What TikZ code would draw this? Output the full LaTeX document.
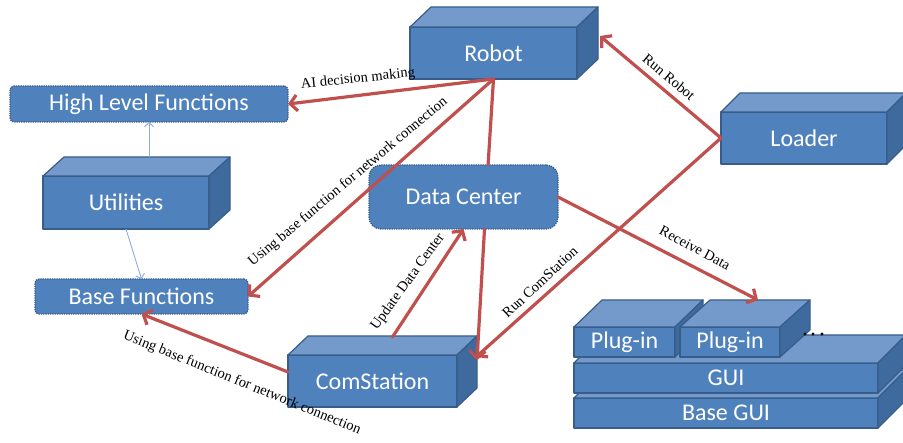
\documentclass[tikz,border=0pt]{standalone}
\usepackage{fontspec}
\setmainfont{Liberation Serif}
\newfontfamily\boxfont{Carlito}
\usetikzlibrary{arrows.meta,calc}

\definecolor{frontblue}{HTML}{4F81BD}
\definecolor{topblue}{HTML}{739ACA}
\definecolor{sideblue}{HTML}{3E6A9E}
\definecolor{edgeblue}{HTML}{385D8A}
\definecolor{linkred}{HTML}{C0504D}
\definecolor{thinblue}{HTML}{8AAEDC}

\tikzset{
  face/.style={draw=edgeblue, line width=1.2pt, line join=round},
  boxtext/.style={text=white, font=\boxfont\fontsize{24}{27}\selectfont},
  frontface/.style={face, fill=frontblue, boxtext, inner sep=0pt, outer sep=0pt},
  roundbox/.style={fill=frontblue, draw=edgeblue, densely dotted, line width=1.3pt,
    boxtext, inner sep=0pt, outer sep=0pt},
  link/.style={draw=linkred, line width=3.2pt, line cap=round,
    -{Straight Barb[length=7pt,width=16pt]}},
  plainlink/.style={draw=linkred, line width=3.2pt, line cap=round},
  thinlink/.style={draw=thinblue, line width=0.9pt,
    -{Straight Barb[length=4pt,width=9pt]}},
  lbl/.style={font=\fontsize{14.5}{16}\selectfont, inner sep=1pt},
}

% box with a front face, a lit top face and a shaded right side
% #1 name, #2 left, #3 top, #4 right, #5 bottom, #6 depth offset, #7 text
\newcommand{\cuboid}[7]{%
  \node[frontface, minimum width={#4-#2}, minimum height={#5-#3}]
    (#1) at ({(#2+#4)/2},{(#3+#5)/2}) {#7};
  \filldraw[face, fill=topblue] (#1.north west) -- ++(#6)
    -- ($(#1.north east)+(#6)$) -- (#1.north east) -- cycle;
  \filldraw[face, fill=sideblue] (#1.north east) -- ++(#6)
    -- ($(#1.south east)+(#6)$) -- (#1.south east) -- cycle;
}

\begin{document}
\begin{tikzpicture}[x=1pt, y=-1pt]
\useasboundingbox (0,0) rectangle (903,443);

% modules
\cuboid{robot}{410}{27}{577}{79}{21,-20}{Robot}
\cuboid{loader}{721}{112}{887}{164}{19,-19}{Loader}
\cuboid{util}{43}{176}{209}{229}{21,-19}{Utilities}
\cuboid{com}{288}{355}{457}{407}{20,-19}{ComStation}

% GUI stack
\cuboid{basegui}{574}{398}{878}{428}{28,-28}{Base GUI}
\cuboid{gui}{574}{363}{878}{393}{28,-28}{GUI}
\cuboid{plugA}{574}{327}{675}{357}{28,-27}{Plug-in}
\cuboid{plugB}{680}{327}{780}{357}{30,-27}{Plug-in}
\foreach \dx in {805,813,822}
  \fill (\dx,334) circle (1.7);

% function groups
\node[roundbox, rounded corners=4pt, minimum width=278, minimum height=36]
  (hlf) at (149,104) {High Level Functions};
\node[roundbox, rounded corners=4pt, minimum width=213, minimum height=35]
  (basef) at (141.5,296.5) {Base Functions};
\node[roundbox, rounded corners=12pt, minimum width=189, minimum height=64]
  (dc) at (463.5,197) {Data Center};

% utilities links
\draw[thinlink] ($(util.north)+(23,-19)$) -- (hlf.south -| 149,0);
\draw[thinlink] (util.south) -- (basef.north);

% red links
\draw[link] (robot.south) -- (hlf.east);
\draw[link] (robot.south) -- (basef.east);
\draw[plainlink] (robot.south) -- ($(dc.north east)!0.37!(dc.north west)$);
\draw[link] (loader.west) -- ($(robot.east)+(23,-17)$);
\draw[link] (loader.west) -- ($(com.north east)+(19,2)$);
\draw[link] (dc.east) -- ($(plugB.north)+(28,-27)$);
\draw[link] ($(dc.south)+(21,0)$) -- ($(com.north east)+(20,5)$);
\draw[link] ($(com.north)+(20,-18)$) -- (dc.south);
\draw[link] ($(com.west)+(0,-9)$) -- (basef.south);

% link labels
\node[lbl, rotate=6] (lAI) at (358,79) {AI decision making};
\node[lbl, rotate=40] (lBaseUp) at (348,182) {Using base function for network connection};
\node[lbl, rotate=-40] (lRunRobot) at (669,77) {Run Robot};
\node[lbl, rotate=43] (lRunCom) at (540,282) {Run ComStation};
\node[lbl, rotate=-28] (lRecv) at (695,248) {Receive Data};
\node[lbl, rotate=54] (lUpdate) at (408,282) {Update Data Center};
\node[lbl, rotate=-22] (lBaseLow) at (242,383) {Using base function for network connection};
\end{tikzpicture}
\end{document}
